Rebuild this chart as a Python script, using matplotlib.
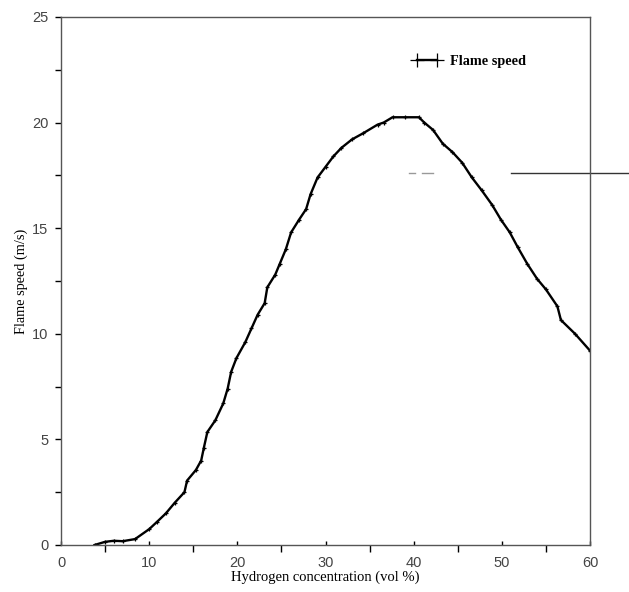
import numpy as np
import matplotlib.pyplot as plt
from matplotlib.ticker import MultipleLocator

#flame speed vs hydrogen concentration
h2_conc = [3.8, 5.0, 6.0, 7.0, 8.4, 10.0, 10.9, 11.9, 12.9, 14.0, 14.3, 15.3, 15.9,
           16.2, 16.6, 17.5, 18.4, 18.9, 19.3, 19.9, 20.9, 21.6, 22.3, 23.1, 23.4,
           24.3, 24.8, 25.5, 26.1, 27.0, 27.8, 28.3, 29.1, 30.0, 30.9, 31.8, 33.0,
           34.3, 35.9, 36.6, 37.6, 39.0, 40.6, 41.2, 42.2, 43.3, 44.4, 45.5, 46.6,
           47.7, 48.9, 49.9, 50.9, 51.8, 52.9, 54.0, 55.0, 56.3, 56.7, 58.3, 60.0]
flame_speed = [0.0, 0.15, 0.2, 0.18, 0.28, 0.75, 1.1, 1.5, 2.0, 2.5, 3.05, 3.55, 4.0,
               4.6, 5.35, 5.9, 6.7, 7.4, 8.2, 8.85, 9.6, 10.25, 10.9, 11.45, 12.2,
               12.8, 13.3, 14.0, 14.8, 15.4, 15.9, 16.6, 17.4, 17.9, 18.4, 18.8, 19.2,
               19.5, 19.9, 20.0, 20.25, 20.25, 20.25, 20.0, 19.65, 19.0, 18.6, 18.1, 17.4,
               16.8, 16.1, 15.4, 14.8, 14.1, 13.3, 12.6, 12.1, 11.3, 10.65, 10.0, 9.2]

#stray marks in the scanned figure
stray_x = [51.0, 64.4]
stray_dash1 = [39.5, 40.2]
stray_dash2 = [41.0, 42.2]
stray_y = 17.6

fig = plt.figure(figsize=(6.29, 5.92), dpi=100)
ax = fig.add_axes([0.097, 0.0794, 0.841, 0.892])

ax.plot(h2_conc, flame_speed, color='black', linewidth=1.7, marker='+',
        markersize=3, markeredgewidth=0.9, label='Flame speed')

ax.plot(stray_x, [stray_y, stray_y], color='#333333', linewidth=1.0, clip_on=False)
ax.plot(stray_dash1, [stray_y, stray_y], color='#999999', linewidth=1.0)
ax.plot(stray_dash2, [stray_y, stray_y], color='#999999', linewidth=1.0)

ax.set_xlim(0, 60)
ax.set_ylim(0, 25)
ax.xaxis.set_major_locator(MultipleLocator(10))
ax.xaxis.set_minor_locator(MultipleLocator(5))
ax.yaxis.set_major_locator(MultipleLocator(5))
ax.yaxis.set_minor_locator(MultipleLocator(2.5))

ax.tick_params(axis='x', which='major', direction='in', length=3, width=1,
               labelsize=10.5, labelcolor='#444444', pad=8)
ax.tick_params(axis='x', which='minor', direction='out', length=5, width=1)
ax.tick_params(axis='y', which='both', direction='out', length=4, width=1,
               labelsize=10.5, labelcolor='#444444', pad=5)
for lab in ax.get_xticklabels() + ax.get_yticklabels():
    lab.set_fontfamily('Liberation Sans')

for s in ax.spines.values():
    s.set_linewidth(1.0)
    s.set_color('#555555')

ax.set_xlabel('Hydrogen concentration (vol %)', fontsize=10.5,
              family='Liberation Serif', labelpad=0)
ax.set_ylabel('Flame speed (m/s)', fontsize=10.3,
              family='Liberation Serif', labelpad=3)

ax.legend(loc='upper left', bbox_to_anchor=(0.64, 0.953), frameon=False,
          numpoints=2, markerscale=3.3, handlelength=2.0, handletextpad=0.6,
          prop={'family': 'Liberation Serif', 'size': 10.3, 'weight': 'bold'})

fig.savefig('out.png', dpi=100)
